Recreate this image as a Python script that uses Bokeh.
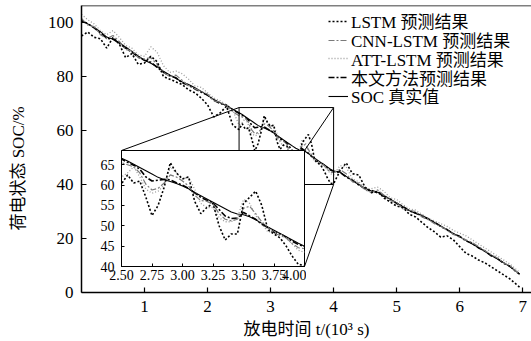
import math
from bokeh.plotting import figure
from bokeh.models import Range1d, Legend, LegendItem, Span, FixedTicker
from bokeh.core.properties import value
from bokeh.embed import file_html
from bokeh.resources import INLINE

# ---------------- data ----------------
T = [0.0, 0.1, 0.2, 0.3, 0.4, 0.5, 0.6, 0.7, 0.8, 0.9, 1.0, 1.1, 1.2, 1.3, 1.4, 1.5, 1.6, 1.7, 1.8, 1.9,
     2.0, 2.1, 2.2, 2.3, 2.4,
     2.5, 2.55, 2.6, 2.65, 2.7, 2.75, 2.8, 2.85, 2.9, 2.95, 3.0, 3.05, 3.1, 3.15, 3.2, 3.25, 3.3, 3.35,
     3.4, 3.45, 3.5, 3.55, 3.6, 3.65, 3.7, 3.75, 3.8, 3.85, 3.9, 3.95, 4.0,
     4.1, 4.2, 4.3, 4.4, 4.5, 4.6, 4.7, 4.8, 4.9, 5.0, 5.1, 5.2, 5.3, 5.4, 5.5, 5.6, 5.7, 5.8, 5.9,
     6.0, 6.1, 6.2, 6.3, 6.4, 6.5, 6.6, 6.7, 6.8, 6.9, 6.95]

SOC_TRUE = [100.8, 99.5, 98.2, 96.6, 94.6, 93.8, 92.6, 90.9, 89.3, 87.6, 86.0, 84.9, 83.6, 82.0, 80.6,
            79.3, 78.0, 77.0, 75.8, 74.5, 73.0, 71.5, 70.3, 69.2, 67.9,
            66.6, 65.9, 65.1, 64.3, 63.5, 62.7, 61.9, 61.3, 60.9, 60.4, 59.8, 59.1, 58.2, 57.4, 56.6,
            55.8, 55.0, 54.2, 53.4, 52.9, 52.7, 52.2, 51.5, 50.6, 49.7, 48.9, 48.1, 47.3, 46.5, 45.7, 45.0,
            44.6, 43.0, 41.4, 40.0, 38.6, 37.6, 37.1, 35.9, 34.5, 33.2, 31.8, 30.4, 29.3, 28.6, 27.4,
            25.9, 24.6, 23.2, 21.9, 20.6, 19.3, 18.0, 16.7, 15.2, 13.8, 12.4, 11.0, 9.5, 7.8, 6.9]

OURS = [100.5, 99.6, 98.0, 96.2, 94.2, 93.9, 92.3, 90.5, 89.0, 87.2, 86.0, 85.3, 83.4, 81.6, 80.3,
        79.5, 77.6, 76.8, 75.4, 74.2, 73.1, 71.2, 70.0, 69.4, 67.6,
        66.4, 65.6, 64.9, 63.9, 62.0, 61.0, 61.2, 61.4, 61.3, 60.6, 60.0, 59.2, 58.1, 57.0, 56.3,
        55.6, 54.0, 52.4, 51.8, 51.9, 53.3, 52.4, 51.6, 50.4, 49.6, 48.4, 48.0, 47.2, 46.2, 45.4, 44.9,
        44.5, 42.8, 41.6, 39.8, 38.4, 37.8, 36.9, 35.6, 34.6, 33.0, 31.9, 30.2, 29.5, 28.3, 27.2,
        26.1, 24.4, 23.3, 21.7, 20.8, 19.1, 18.2, 16.5, 15.4, 13.6, 12.6, 10.8, 9.7, 7.6, 6.8]

CNN_LSTM = [101.5, 99.0, 98.5, 95.5, 94.0, 95.2, 93.0, 90.0, 89.5, 87.0, 86.5, 87.0, 84.5, 81.5, 80.0,
            80.5, 78.5, 76.5, 75.5, 74.5, 73.5, 71.0, 70.5, 69.0, 67.0,
            65.5, 65.0, 64.5, 63.0, 60.2, 58.8, 59.2, 60.5, 62.5, 62.0, 61.0, 59.8, 57.5, 56.2, 56.0,
            55.3, 53.0, 51.6, 51.2, 51.6, 54.3, 54.8, 53.0, 51.0, 49.6, 48.2, 47.6, 47.0, 45.6, 44.6, 44.4,
            45.5, 44.0, 41.0, 40.5, 38.0, 37.0, 38.0, 36.0, 34.0, 33.5, 31.0, 30.5, 30.0, 28.0, 27.0,
            25.5, 24.5, 23.0, 21.5, 20.5, 19.5, 18.5, 17.0, 15.5, 14.0, 12.8, 11.0, 9.8, 7.8, 6.5]

ATT_LSTM = [103.0, 101.0, 99.5, 97.0, 95.5, 97.0, 94.5, 91.5, 90.5, 88.0, 87.5, 91.0, 89.0, 84.0, 81.5,
            82.0, 81.0, 79.0, 76.5, 76.0, 74.0, 72.0, 71.0, 69.5, 67.5,
            62.0, 63.0, 64.5, 62.0, 59.0, 58.0, 58.5, 60.0, 64.5, 63.0, 61.5, 62.0, 59.0, 55.5, 54.5,
            54.5, 52.0, 51.0, 51.0, 52.0, 56.5, 55.5, 52.5, 50.5, 48.5, 48.5, 48.0, 47.0, 45.5, 44.0, 43.5,
            47.0, 46.5, 42.0, 41.0, 38.5, 38.5, 39.0, 37.5, 35.0, 34.5, 32.5, 31.0, 30.5, 29.0, 27.5,
            26.5, 25.5, 24.5, 23.0, 22.0, 21.0, 19.5, 18.0, 16.5, 15.0, 13.5, 12.0, 10.5, 8.5, 7.5]

LSTM = [95.0, 96.5, 94.5, 94.0, 90.5, 94.5, 92.0, 87.0, 88.5, 84.5, 85.0, 87.5, 85.5, 80.0, 79.0,
        78.0, 77.0, 75.0, 74.0, 72.0, 69.5, 65.0, 66.5, 69.0, 62.0,
        60.3, 62.5, 60.5, 61.0, 57.0, 52.5, 55.0, 59.5, 65.5, 63.0, 61.5, 62.0, 56.0, 53.0, 54.5,
        55.5, 50.0, 46.5, 48.0, 48.0, 55.5, 57.0, 58.5, 55.0, 49.0, 48.0, 47.0, 45.0, 42.5, 40.5, 40.3,
        45.0, 48.0, 44.0, 43.5, 39.0, 37.0, 37.5, 35.0, 33.5, 32.0, 31.5, 29.0, 28.0, 26.0, 24.0,
        22.5, 20.5, 21.0, 19.5, 17.0, 14.5, 13.5, 12.0, 11.0, 9.5, 8.0, 6.5, 5.0, 3.0, 2.0]

SERIES_NAMES = ["LSTM 预测结果", "CNN-LSTM 预测结果", "ATT-LSTM 预测结果", "本文方法预测结果", "SOC 真实值"]
SERIES = [LSTM, CNN_LSTM, ATT_LSTM, OURS, SOC_TRUE]

X_TICKS = [1, 2, 3, 4, 5, 6, 7]
Y_TICKS = [0, 20, 40, 60, 80, 100]
INSET_X_TICKS = [2.5, 2.75, 3.0, 3.25, 3.5, 3.75, 4.0]
INSET_X_LABELS = ["2.50", "2.75", "3.00", "3.25", "3.50", "3.75", "4.00"]
INSET_Y_TICKS = [40, 45, 50, 55, 60, 65]
ZOOM_X = (2.5, 4.0)
ZOOM_Y = (40.0, 68.5)

X_LABEL = "放电时间 t/(10³ s)"
Y_LABEL = "荷电状态 SOC/%"

for s in SERIES:
    assert len(s) == len(T)

# ---------------- styles ----------------
FONT = "Liberation Serif, Noto Sans CJK SC"
STYLES = [
    dict(line_color="black", line_width=1.6, line_dash="2 2"),
    dict(line_color="#7a7a7a", line_width=1.2, line_dash="6 2 2 2"),
    dict(line_color="#9c9c9c", line_width=1.3, line_dash="1 2"),
    dict(line_color="black", line_width=1.6, line_dash="6 2 2 2"),
    dict(line_color="black", line_width=1.1, line_dash="solid"),
]
DRAW_ORDER = [4, 3, 1, 2, 0]

W, H = 531, 341
ML, MR, MT, MB = 81, 0, 5, 49
X_MAX = 7.14
Y_MAX = 106.3

# inset frame placement (pixels in the page)
IN_LEFT, IN_TOP, IN_FW, IN_FH = 121, 150, 183, 116
IL, IR, IT, IB = 32, 2, 2, 22

# legend rows (pixel centres on the page) and y-label centre
LEG_X = 328
LEG_ROWS = [21, 40, 58.75, 77.5, 96]
LEG_ROW_H = 24
YLAB_CX, YLAB_CY, YLAB_W, YLAB_H = 18, 168, 28, 160


def style_axes(fig, size):
    for ax in fig.axis:
        ax.axis_line_color = "black"
        ax.major_tick_line_color = "black"
        ax.minor_tick_line_color = None
        ax.major_tick_out = 0
        ax.major_label_text_font = FONT
        ax.major_label_text_font_size = size
        ax.major_label_text_color = "black"
        ax.axis_label_text_font = FONT
        ax.axis_label_text_font_style = "normal"
        ax.axis_label_text_color = "black"
    fig.xgrid.grid_line_color = None
    fig.ygrid.grid_line_color = None


# ---------------- main figure ----------------
p = figure(width=W, height=H, x_range=Range1d(0, X_MAX), y_range=Range1d(0, Y_MAX),
           output_backend="svg", toolbar_location=None,
           min_border_left=ML, min_border_right=MR, min_border_top=MT, min_border_bottom=MB)
p.outline_line_color = None
p.background_fill_color = "white"
p.border_fill_color = "white"
style_axes(p, "17px")
p.xaxis.ticker = FixedTicker(ticks=X_TICKS)
p.yaxis.ticker = FixedTicker(ticks=Y_TICKS)
for ax in p.axis:
    ax.axis_line_width = 1.5
    ax.major_tick_line_width = 1.2
    ax.major_tick_in = 5
p.xaxis.major_label_standoff = 8
p.yaxis.major_label_standoff = 8
p.xaxis.axis_label = X_LABEL
p.xaxis.axis_label_text_font_size = "17px"
p.xaxis.axis_label_standoff = 5

renderers = {}
for i in DRAW_ORDER:
    renderers[i] = p.line(T, SERIES[i], **STYLES[i])

p.add_layout(Span(location=Y_MAX, dimension="width", line_color="black", line_width=1.5))

# zoom rectangle and connectors
p.quad(left=[ZOOM_X[0]], right=[ZOOM_X[1]], bottom=[ZOOM_Y[0]], top=[ZOOM_Y[1]],
       fill_color=None, line_color="black", line_width=1)
frame_w = W - ML - MR
frame_h = H - MT - MB


def px_x(px):
    return (px - ML) / frame_w * X_MAX


def px_y(py):
    return (H - MB - py) / frame_h * Y_MAX


ix0, ix1 = px_x(IN_LEFT), px_x(IN_LEFT + IN_FW)
iy0, iy1 = px_y(IN_TOP + IN_FH), px_y(IN_TOP)
p.segment(x0=[ZOOM_X[0], ZOOM_X[1], ZOOM_X[1]], y0=[ZOOM_Y[1], ZOOM_Y[1], ZOOM_Y[0]],
          x1=[ix0, ix1, ix1], y1=[iy1, iy1, iy0], line_color="black", line_width=1)

# legend: one single-row legend per entry, stacked at the reference spacing
for i in range(5):
    lg = Legend(items=[LegendItem(label=SERIES_NAMES[i], renderers=[renderers[i]])],
                location=(LEG_X - ML, (H - MB) - LEG_ROWS[i] - LEG_ROW_H / 2))
    lg.background_fill_alpha = 0
    lg.border_line_color = None
    lg.label_text_font = FONT
    lg.label_text_font_size = "17px"
    lg.label_text_color = "black"
    lg.padding = 0
    lg.margin = 0
    lg.spacing = 0
    lg.label_height = LEG_ROW_H
    lg.glyph_height = LEG_ROW_H
    lg.glyph_width = 20
    lg.label_standoff = 3
    p.add_layout(lg)

# ---------------- y-axis title (rotated text in a tiny transparent figure) ----------------
ylab = figure(width=YLAB_W, height=YLAB_H, x_range=Range1d(0, 1), y_range=Range1d(0, 1),
              x_axis_type=None, y_axis_type=None, output_backend="svg", toolbar_location=None,
              min_border=0,
              styles={"position": "absolute", "left": f"{YLAB_CX - YLAB_W // 2}px",
                      "top": f"{YLAB_CY - YLAB_H // 2}px"})
ylab.outline_line_color = None
ylab.background_fill_color = None
ylab.border_fill_color = None
ylab.xgrid.grid_line_color = None
ylab.ygrid.grid_line_color = None
ylab.text(x=[0.5], y=[0.5], text=[Y_LABEL], angle=math.pi / 2, text_align="center",
          text_baseline="middle", text_font=value(FONT), text_font_size="17px", text_color="black")

# ---------------- inset figure ----------------
inset = figure(width=IL + IN_FW + IR, height=IT + IN_FH + IB,
               x_range=Range1d(*ZOOM_X), y_range=Range1d(*ZOOM_Y),
               output_backend="svg", toolbar_location=None,
               min_border_left=IL, min_border_right=IR, min_border_top=IT, min_border_bottom=IB,
               styles={"position": "absolute", "left": f"{IN_LEFT - IL}px", "top": f"{IN_TOP - IT}px"})
inset.border_fill_color = None
inset.background_fill_color = "white"
inset.outline_line_color = "black"
inset.outline_line_width = 1
style_axes(inset, "14px")
inset.xaxis.ticker = FixedTicker(ticks=INSET_X_TICKS)
inset.xaxis.major_label_overrides = {t: l for t, l in zip(INSET_X_TICKS, INSET_X_LABELS)}
inset.yaxis.ticker = FixedTicker(ticks=INSET_Y_TICKS)
for ax in inset.axis:
    ax.axis_line_width = 1
    ax.major_tick_in = 3
inset.xaxis.major_label_standoff = 3
inset.yaxis.major_label_standoff = 7
for i in DRAW_ORDER:
    inset.line(T, SERIES[i], **STYLES[i])

open("out.html", "w").write(file_html([p, ylab, inset], INLINE, "SOC"))
